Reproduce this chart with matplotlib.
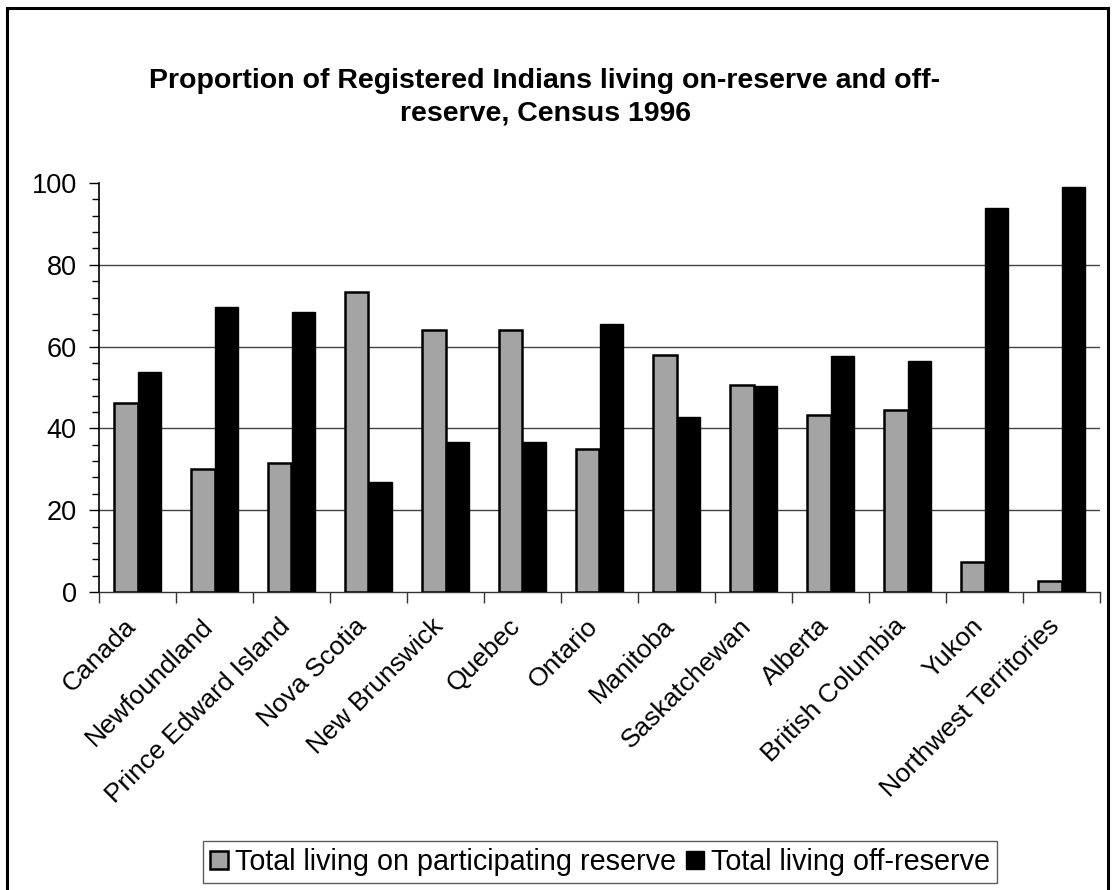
import matplotlib
matplotlib.use("Agg")
import matplotlib.pyplot as plt
import numpy as np
from matplotlib.patches import Rectangle
from matplotlib.ticker import MultipleLocator
from matplotlib.transforms import ScaledTranslation

categories = ["Canada", "Newfoundland", "Prince Edward Island", "Nova Scotia",
              "New Brunswick", "Quebec", "Ontario", "Manitoba", "Saskatchewan",
              "Alberta", "British Columbia", "Yukon", "Northwest Territories"]
on_reserve = [46.3, 30.1, 31.5, 73.3, 64.0, 64.0, 35.0, 58.0, 50.7, 43.3, 44.5, 7.3, 2.6]
off_reserve = [53.8, 69.8, 68.4, 27.0, 36.6, 36.6, 65.6, 42.9, 50.3, 57.6, 56.6, 93.9, 99.0]
series_names = ["Total living on participating reserve", "Total living off-reserve"]
title = "Proportion of Registered Indians living on-reserve and off-\nreserve, Census 1996"

plt.rcParams['font.family'] = ['Liberation Sans', 'DejaVu Sans']

W, H = 1114, 890
fig = plt.figure(figsize=(W / 100, H / 100), dpi=100)
ax = fig.add_axes([99 / W, 1 - 592 / H, (1100 - 99) / W, (592 - 183) / H])

x = np.arange(len(categories))
bw = 0.3
ax.bar(x - bw / 2, on_reserve, width=bw, color='#a4a4a4', edgecolor='black',
       linewidth=1.8, label=series_names[0], zorder=3)
ax.bar(x + bw / 2, off_reserve, width=bw, color='black', edgecolor='black',
       linewidth=1.0, label=series_names[1], zorder=3)

ax.set_xlim(-0.5, len(categories) - 0.5)
ax.set_ylim(0, 100)
ax.yaxis.set_major_locator(MultipleLocator(20))
ax.yaxis.set_minor_locator(MultipleLocator(4))
for yv in [20, 40, 60, 80]:
    ax.axhline(yv, color='#444444', linewidth=1.0, zorder=1)

ax.set_xticks(x)
ax.set_xticklabels(categories, rotation=45, ha='right', rotation_mode='anchor', fontsize=19)
ax.tick_params(axis='x', which='major', length=0, pad=10)
offset = ScaledTranslation(-14 / 100, -8 / 100, fig.dpi_scale_trans)
for lbl in ax.get_xticklabels():
    lbl.set_transform(lbl.get_transform() + offset)
ax.set_xticks(np.arange(-0.5, len(categories), 1.0), minor=True)
ax.tick_params(axis='x', which='minor', length=8, width=1.0, color='#333333', direction='out')
ax.tick_params(axis='y', which='major', labelsize=19.5, length=7, width=1.0, direction='out', pad=9)
ax.tick_params(axis='y', which='minor', length=5, width=1.0, direction='out')

for s in ['top', 'right']:
    ax.spines[s].set_visible(False)
ax.spines['left'].set_linewidth(1.2)
ax.spines['bottom'].set_linewidth(1.0)
ax.spines['bottom'].set_color('#333333')

fig.text(545 / W, 1 - 97 / H, title, ha='center', va='center', fontsize=20.5,
         fontweight='bold', linespacing=1.35)

leg = fig.legend(loc='center', bbox_to_anchor=(600 / W, 1 - 862 / H), ncol=2,
                 fontsize=20.7, frameon=True, fancybox=False, edgecolor='#333333',
                 handlelength=0.62, handleheight=0.62, handletextpad=0.25,
                 columnspacing=0.35, borderpad=0.25, borderaxespad=0)
leg.get_frame().set_linewidth(1.0)

fig.patches.append(Rectangle((7 / W, -0.01), (1108 - 7) / W, 1 - 8 / H + 0.01,
                             transform=fig.transFigure, fill=False,
                             edgecolor='black', linewidth=2.2))

fig.savefig("out.png", dpi=100, facecolor='white')
